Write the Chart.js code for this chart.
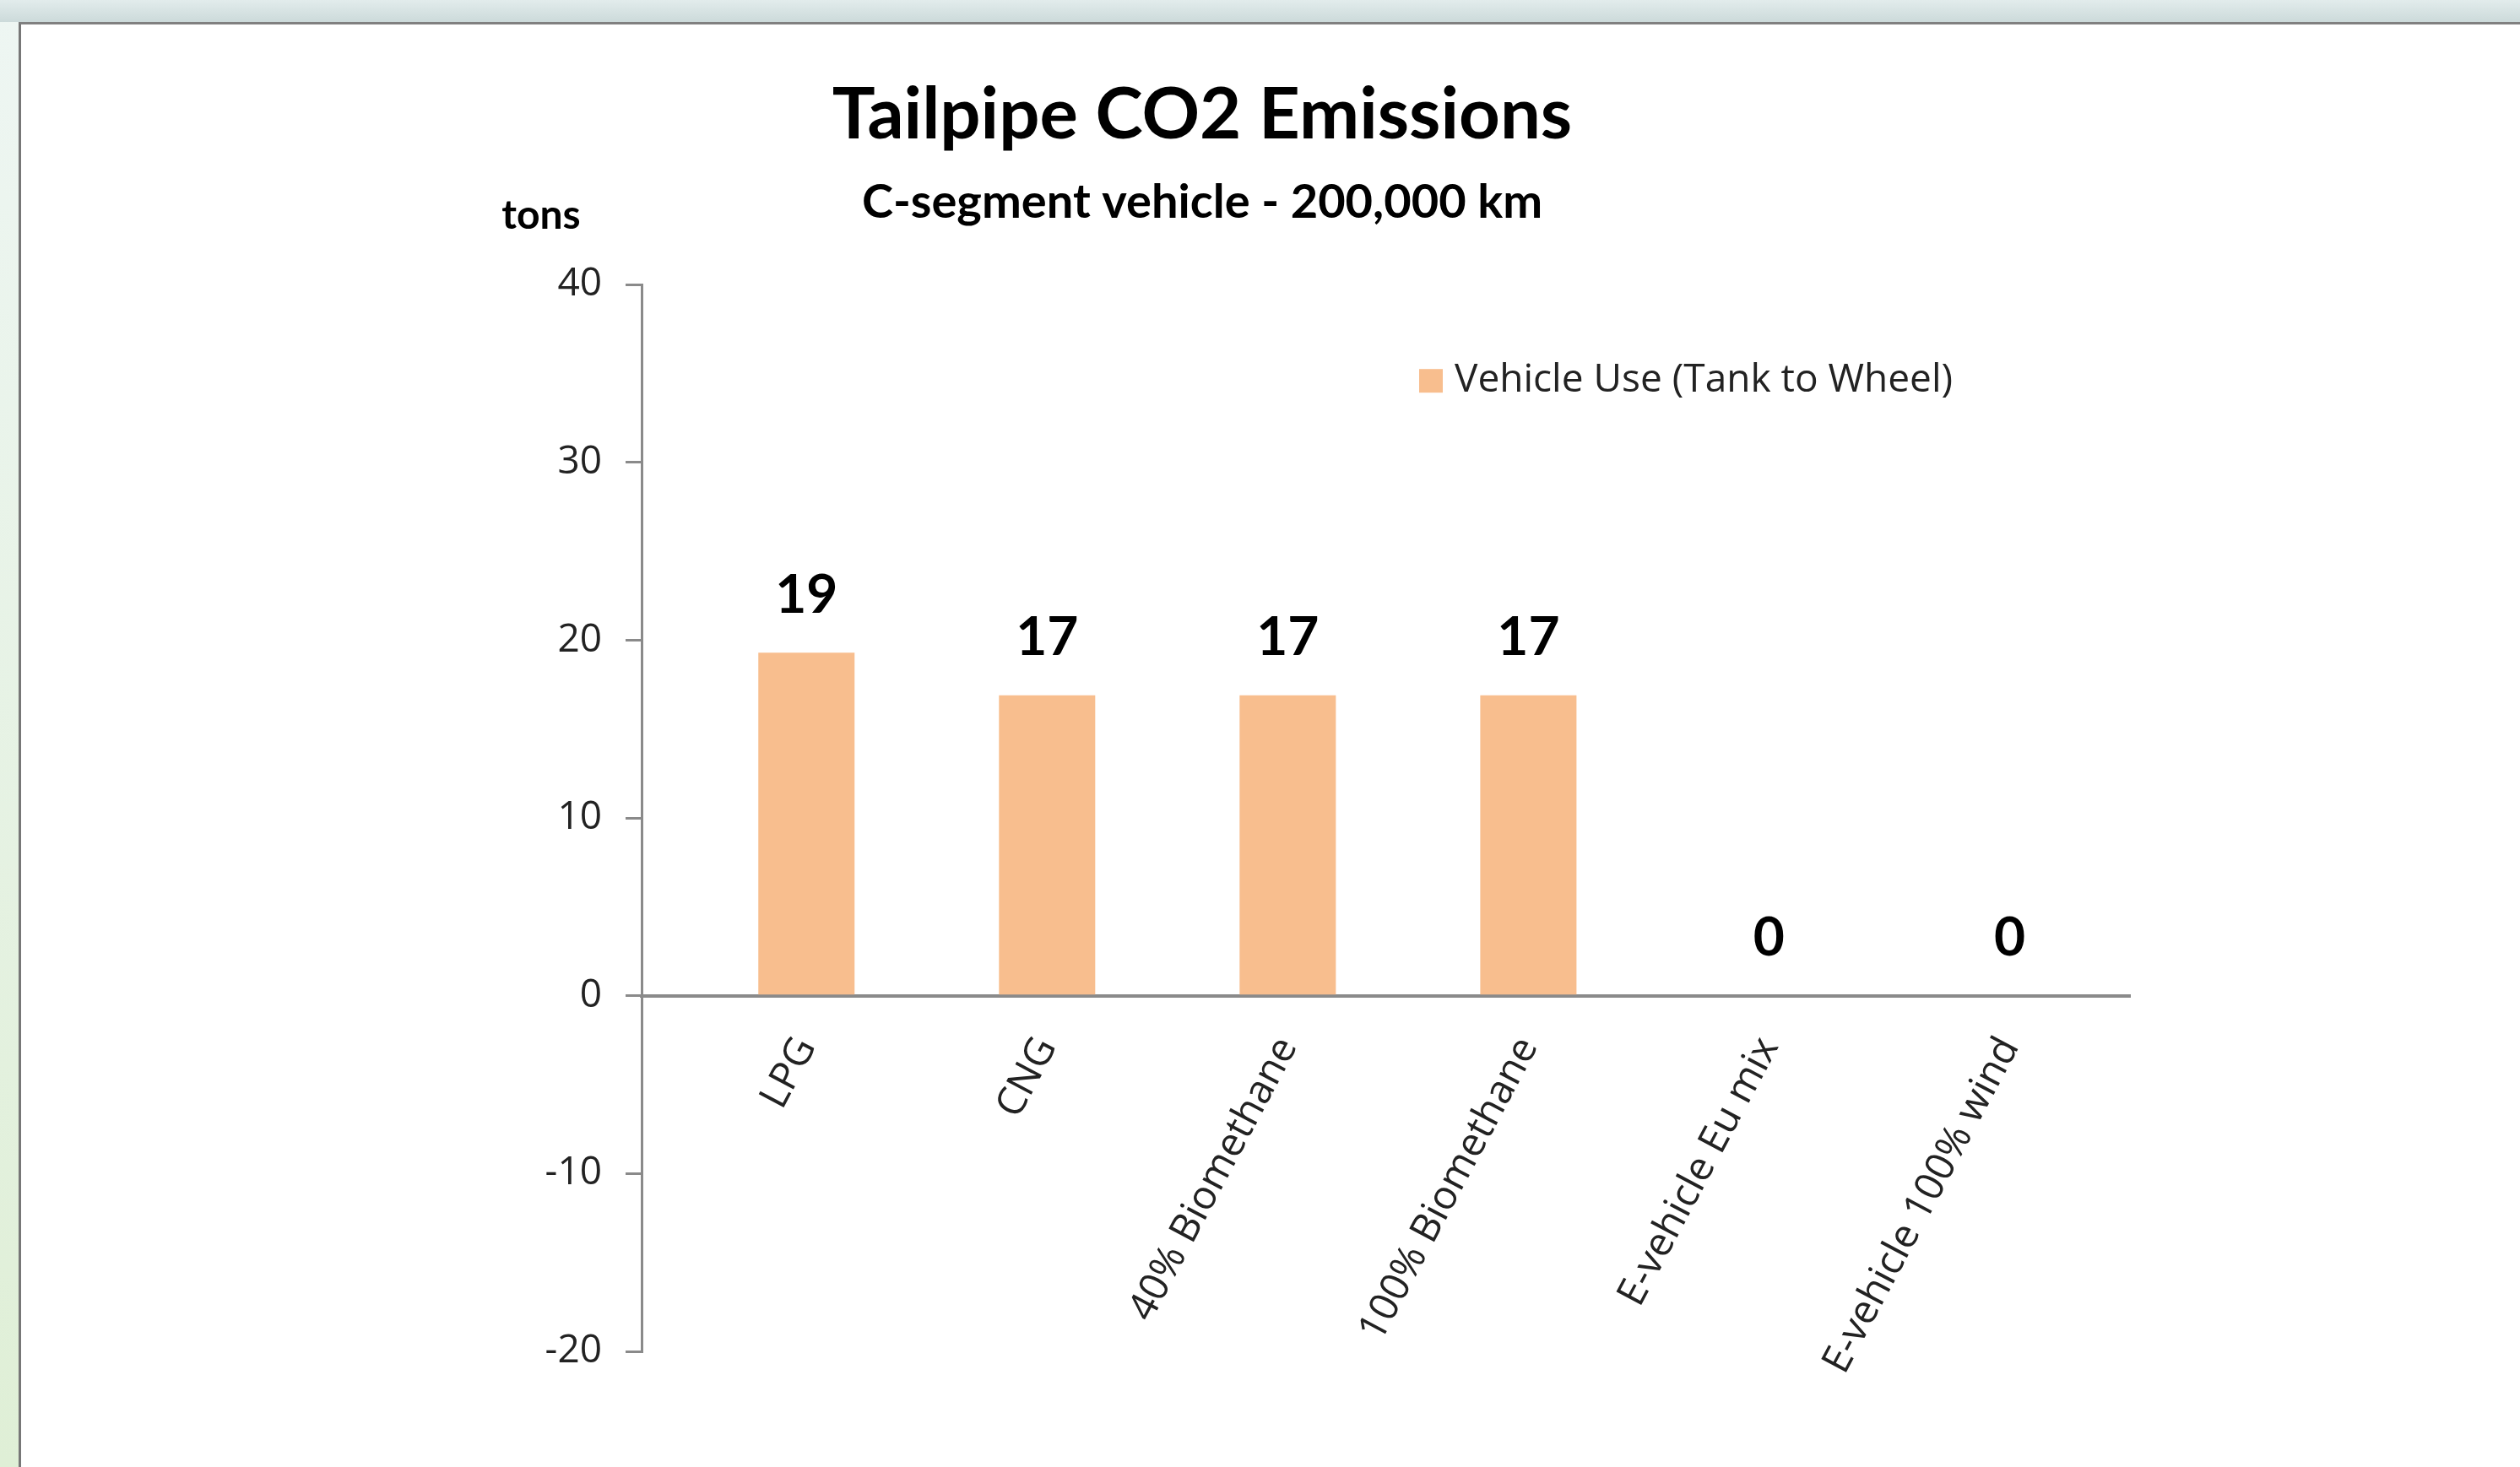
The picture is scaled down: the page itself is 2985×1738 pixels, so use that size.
<!DOCTYPE html>
<html>
<head>
<meta charset="utf-8">
<script src="https://cdn.jsdelivr.net/npm/chart.js@4.4.1/dist/chart.umd.min.js"></script>
<style>
  html, body { margin: 0; padding: 0; width: 2985px; height: 1738px; overflow: hidden; }
  body { background: linear-gradient(to bottom, #eef6f3, #dfefd6); position: relative; }
  #strip { position: absolute; left: 0; top: 0; width: 2985px; height: 26px; background: linear-gradient(to bottom, #e2ecec, #ccdada); }
  #frame { position: absolute; left: 22px; top: 26px; width: 2980px; height: 1720px; background: #fff;
           border-left: 3px solid #777; border-top: 3px solid #808080; }
  #chart { position: absolute; left: 0; top: 0; }
</style>
</head>
<body>
<div id="strip"></div>
<div id="frame"></div>
<canvas id="chart" width="2985" height="1738"></canvas>
<script>
const categories = ['LPG', 'CNG', '40% Biomethane', '100% Biomethane', 'E-vehicle Eu mix', 'E-vehicle 100% wind'];
const tankToWheel = [19.3, 16.9, 16.9, 16.9, 0, 0];
const yTicks = [-20, -10, 0, 10, 20, 30, 40];
const seriesName = 'Vehicle Use (Tank to Wheel)';
const barColor = '#f8be8e';

// bar values on top of each bar
const valueLabels = {
    id: 'valueLabels',
    afterDatasetsDraw(chart) {
        const ctx = chart.ctx;
        const meta = chart.getDatasetMeta(0);
        ctx.save();
        ctx.font = 'bold 64px Lato';
        ctx.fillStyle = '#000';
        ctx.textAlign = 'center';
        ctx.textBaseline = 'middle';
        meta.data.forEach(function(bar, i) {
            ctx.fillText(tankToWheel[i].toFixed(0), bar.x, bar.y - 68);
        });
        ctx.restore();
    }
};

// legend inside the plot and the unit label
const extras = {
    id: 'extras',
    afterDraw(chart) {
        const ctx = chart.ctx;
        const area = chart.chartArea;
        ctx.save();
        ctx.font = 'bold 48px Lato';
        ctx.fillStyle = '#000';
        ctx.textAlign = 'center';
        ctx.textBaseline = 'middle';
        ctx.fillText('tons', area.left - 119, area.top - 82);

        const lx = area.left + 921;
        const ly = area.top + 114;
        ctx.fillStyle = chart.data.datasets[0].backgroundColor;
        ctx.fillRect(lx, ly - 14, 28, 28);
        ctx.font = '46px "Open Sans"';
        ctx.fillStyle = '#222';
        ctx.textAlign = 'left';
        ctx.fillText(chart.data.datasets[0].label, lx + 42, ly);
        ctx.restore();
    }
};

new Chart(document.getElementById('chart'), {
    type: 'bar',
    data: {
        datasets: [{
            label: seriesName,
            data: categories.map(function(c, i) { return { x: i, y: tankToWheel[i] }; }),
            backgroundColor: barColor,
            borderWidth: 0,
            barPercentage: 0.4,
            categoryPercentage: 1.0
        }]
    },
    options: {
        responsive: false,
        devicePixelRatio: 1,
        animation: false,
        layout: {
            padding: { left: 325, right: 462, top: 0, bottom: 137 }
        },
        plugins: {
            legend: { display: false },
            tooltip: { enabled: false },
            title: {
                display: true,
                text: 'Tailpipe CO2 Emissions',
                color: '#000',
                font: { family: 'Lato', size: 85, weight: 'bold', lineHeight: 1.2 },
                padding: { top: 86, bottom: 0 }
            },
            subtitle: {
                display: true,
                text: 'C-segment vehicle - 200,000 km',
                color: '#000',
                font: { family: 'Lato', size: 56, weight: 'bold', lineHeight: 1.2 },
                padding: { top: 18, bottom: 64 }
            }
        },
        scales: {
            x: {
                type: 'linear',
                position: { y: 0 },
                offset: false,
                min: -0.685,
                max: 5.5,
                afterFit: function(scale) { scale.height = 0; },
                afterBuildTicks: function(scale) {
                    scale.ticks = categories.map(function(c, i) { return { value: i }; });
                },
                grid: { display: false, drawTicks: false, offset: false },
                border: { display: true, color: '#8a8a8a', width: 4 },
                ticks: {
                    autoSkip: false,
                    minRotation: 62,
                    maxRotation: 62,
                    padding: 40,
                    color: '#222',
                    font: { family: 'Open Sans', size: 47 },
                    callback: function(value) { return categories[value]; }
                }
            },
            y: {
                min: -20,
                max: 40,
                afterFit: function(scale) { scale.width = 435; },
                afterBuildTicks: function(scale) {
                    scale.ticks = yTicks.map(function(v) { return { value: v }; });
                },
                grid: { drawOnChartArea: false, drawTicks: true, tickLength: 19, color: '#8a8a8a', lineWidth: 3 },
                border: { display: true, color: '#8a8a8a', width: 3 },
                ticks: {
                    padding: 28,
                    color: '#222',
                    font: { family: 'Open Sans', size: 46 }
                }
            }
        }
    },
    plugins: [valueLabels, extras]
});
</script>
</body>
</html>
